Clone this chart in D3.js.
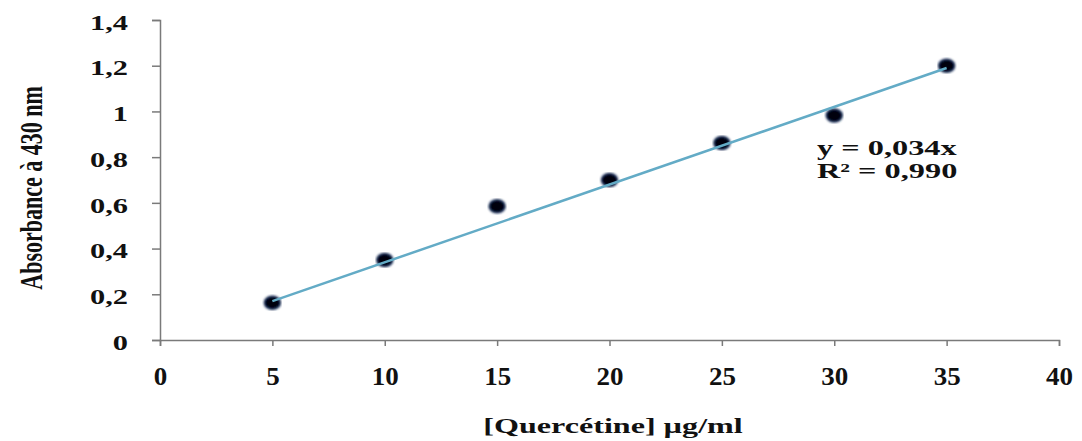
<!DOCTYPE html>
<html>
<head>
<meta charset="utf-8">
<script src="https://cdn.jsdelivr.net/npm/d3@7"></script>
<style>
  body { margin: 0; background: #fff; }
  svg text { font-family: "Liberation Serif", "Times New Roman", serif; font-weight: bold; fill: #111; }
</style>
</head>
<body>
<div id="chart"></div>
<script>
// Quercetin calibration data
const concentrations = [5, 10, 15, 20, 25, 30, 35];
const absorbances = [0.163, 0.35, 0.585, 0.70, 0.862, 0.982, 1.20];
const xTicks = [0, 5, 10, 15, 20, 25, 30, 35, 40];
const yTicks = [0, 0.2, 0.4, 0.6, 0.8, 1, 1.2, 1.4];
const slope = 0.034;
const equationLines = ["y = 0,034x", "R\u00b2 = 0,990"];

const width = 1082, height = 441;
const margin = { top: 20, right: 23, bottom: 101, left: 160 };

const svg = d3.select("#chart").append("svg")
    .attr("width", width)
    .attr("height", height);

const x = d3.scaleLinear().domain([0, 40]).range([margin.left, width - margin.right]);
const y = d3.scaleLinear().domain([0, 1.4]).range([height - margin.bottom, margin.top]);

const fmt = d => String(d).replace(".", ",");

// y axis
const yAxis = svg.append("g")
    .attr("transform", `translate(${margin.left},0)`)
    .call(d3.axisLeft(y).tickValues(yTicks).tickFormat(fmt).tickSize(8));

yAxis.selectAll(".tick text")
    .attr("x", 0)
    .attr("dy", "0.42em")
    .attr("transform", "translate(-32,0) scale(1.38,1)")
    .style("font-size", "22px");

// x axis
const xAxis = svg.append("g")
    .attr("transform", `translate(0,${y(0)})`)
    .call(d3.axisBottom(x).tickValues(xTicks).tickFormat(fmt).tickSize(6));

xAxis.selectAll(".tick text")
    .attr("y", 0)
    .attr("dy", 0)
    .attr("transform", "translate(0,45) scale(1.08,1)")
    .style("font-size", "25px");

[xAxis, yAxis].forEach(a => {
    a.select(".domain").attr("stroke", "#7a7a7a").attr("stroke-width", 1.5);
    a.selectAll(".tick line").attr("stroke", "#7a7a7a").attr("stroke-width", 1.5);
    a.selectAll("text").attr("fill", "#111");
});

// axis titles
svg.append("text")
    .attr("transform", `translate(613,433) scale(1.46,1)`)
    .attr("text-anchor", "middle")
    .style("font-size", "22px")
    .text("[Querc\u00e9tine] \u00b5g/ml");

svg.append("text")
    .attr("transform", `translate(42,188) scale(1.45,1) rotate(-90)`)
    .attr("text-anchor", "middle")
    .style("font-size", "22px")
    .text("Absorbance \u00e0 430 nm");

// points
const defs = svg.append("defs");
defs.append("filter").attr("id", "glow")
    .append("feGaussianBlur").attr("stdDeviation", 0.8);

svg.append("g").selectAll("ellipse")
    .data(concentrations)
    .join("ellipse")
    .attr("cx", d => x(d))
    .attr("cy", (d, i) => y(absorbances[i]))
    .attr("rx", 8)
    .attr("ry", 6.5)
    .attr("fill", "#05050f")
    .attr("stroke", "#1c2f5a")
    .attr("stroke-width", 1.5)
    .attr("filter", "url(#glow)");

// trend line (drawn over the markers)
const line = d3.line().x(d => x(d)).y(d => y(slope * d));
svg.append("path")
    .datum([5, 35])
    .attr("d", line)
    .attr("fill", "none")
    .attr("stroke", "#63abc6")
    .attr("stroke-width", 2.5);

// equation label
svg.append("g").selectAll("text")
    .data(equationLines)
    .join("text")
    .attr("transform", (d, i) => `translate(817,${155 + i * 23}) scale(1.47,1)`)
    .style("font-size", "22px")
    .text(d => d);
</script>
</body>
</html>
